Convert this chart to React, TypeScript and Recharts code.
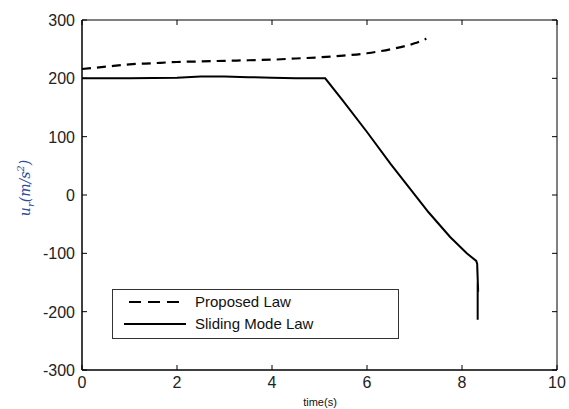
import React from 'react';
import { LineChart, Line, XAxis, YAxis, ReferenceArea } from 'recharts';

// time (s) and control value u_r (m/s^2)
const proposedTime = [0, 0.5, 1, 1.5, 2, 2.5, 3, 3.5, 4, 4.5, 5, 5.5, 6, 6.5, 7, 7.25];
const proposedValue = [216, 220, 224, 226, 228, 229, 230, 231, 232, 234, 236, 239, 243, 250, 260, 268];

const slidingTime = [0, 1, 2, 2.5, 3, 3.5, 4, 4.5, 5.12, 5.5, 6, 6.5, 6.76, 7.3, 7.75, 8.1, 8.3, 8.32, 8.34, 8.32, 8.34, 8.33, 8.33];
const slidingValue = [200, 200, 201, 203, 203, 202, 201, 200, 200, 161, 108, 53, 26, -30, -72, -100, -113, -118, -166, -122, -164, -150, -214];

const xTicks = [0, 2, 4, 6, 8, 10];
const yTicks = [-300, -200, -100, 0, 100, 200, 300];

const proposedData = proposedTime.map((t, i) => ({ t, u: proposedValue[i] }));
const slidingData = slidingTime.map((t, i) => ({ t, u: slidingValue[i] }));

const W = 569;
const H = 409;
const PLOT_LEFT = 82;
const PLOT_TOP = 20;
const PLOT_RIGHT = 557;
const PLOT_BOTTOM = 370;
const TICK = 5;
const FONT = '"Liberation Sans", Arial, sans-serif';

const XTick = (props: any) => {
  const { x, payload } = props;
  return (
    <g>
      <line x1={x} x2={x} y1={PLOT_BOTTOM} y2={PLOT_BOTTOM - TICK} stroke="#000" />
      <line x1={x} x2={x} y1={PLOT_TOP} y2={PLOT_TOP + TICK} stroke="#000" />
      <text x={x} y={PLOT_BOTTOM + 18} textAnchor="middle" fontSize={16} fontFamily={FONT} fill="#222">
        {payload.value}
      </text>
    </g>
  );
};

const YTick = (props: any) => {
  const { y, payload } = props;
  return (
    <g>
      <line x1={PLOT_LEFT} x2={PLOT_LEFT + TICK} y1={y} y2={y} stroke="#000" />
      <line x1={PLOT_RIGHT} x2={PLOT_RIGHT - TICK} y1={y} y2={y} stroke="#000" />
      <text x={PLOT_LEFT - 7} y={y + 6} textAnchor="end" fontSize={16} fontFamily={FONT} fill="#222">
        {payload.value}
      </text>
    </g>
  );
};

export default function App() {
  return (
    <div style={{ position: 'absolute', left: 0, top: 0, width: W, height: H, background: '#fff' }}>
      <LineChart
        width={W}
        height={H}
        margin={{ top: PLOT_TOP, right: W - PLOT_RIGHT, bottom: 9, left: 22 }}
      >
        <XAxis
          dataKey="t"
          type="number"
          domain={[0, 10]}
          ticks={xTicks}
          height={30}
          tickLine={false}
          axisLine={{ stroke: '#000' }}
          tick={<XTick />}
          allowDuplicatedCategory={false}
        />
        <YAxis
          type="number"
          domain={[-300, 300]}
          ticks={yTicks}
          width={60}
          tickLine={false}
          axisLine={{ stroke: '#000' }}
          tick={<YTick />}
        />
        <ReferenceArea x1={0} x2={10} y1={-300} y2={300} stroke="#000" fill="none" ifOverflow="visible" />
        <Line
          data={proposedData}
          dataKey="u"
          type="monotone"
          stroke="#000"
          strokeWidth={2.2}
          strokeDasharray="9 6"
          dot={false}
          isAnimationActive={false}
        />
        <Line
          data={slidingData}
          dataKey="u"
          type="linear"
          stroke="#000"
          strokeWidth={2}
          dot={false}
          isAnimationActive={false}
        />
      </LineChart>

      <svg width={60} height={H} style={{ position: 'absolute', left: 0, top: 0 }}>
        <text
          transform="translate(30,188) rotate(-90)"
          textAnchor="middle"
          fontFamily='"DejaVu Serif", "Liberation Serif", serif'
          fontStyle="italic"
          fontSize={14}
          fill="#2a4a9a"
        >
          u<tspan fontSize={10} dy={4}>r</tspan>
          <tspan dy={-4}>(m/s</tspan>
          <tspan fontSize={10} dy={-6}>2</tspan>
          <tspan dy={6}>)</tspan>
        </text>
      </svg>

      <div
        style={{
          position: 'absolute',
          left: 112,
          top: 289,
          width: 287,
          height: 50,
          border: '1px solid #333',
          boxSizing: 'border-box',
          background: '#fff',
          fontFamily: FONT,
          fontSize: 15,
          color: '#111',
        }}
      >
        <svg width={80} height={48} style={{ position: 'absolute', left: 0, top: 0 }}>
          <line x1={16} x2={70} y1={12} y2={12} stroke="#000" strokeWidth={2} strokeDasharray="12 7" />
          <line x1={11} x2={73} y1={34} y2={34} stroke="#000" strokeWidth={2} />
        </svg>
        <div style={{ position: 'absolute', left: 82, top: 2, lineHeight: '20px' }}>Proposed Law</div>
        <div style={{ position: 'absolute', left: 82, top: 24, lineHeight: '20px' }}>Sliding Mode Law</div>
      </div>

      <div
        style={{
          position: 'absolute',
          left: 0,
          width: 640,
          top: 396,
          textAlign: 'center',
          fontFamily: FONT,
          fontSize: 11,
          color: '#111',
        }}
      >
        time(s)
      </div>
    </div>
  );
}
